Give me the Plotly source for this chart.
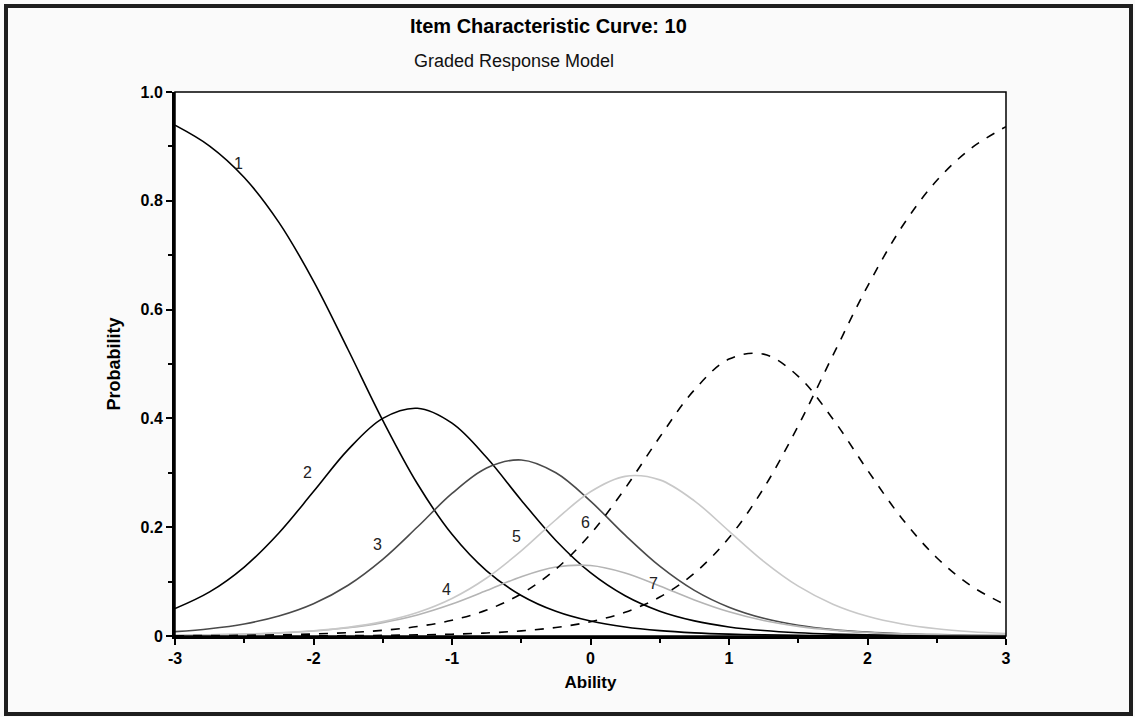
import plotly.graph_objects as go

# Ability grid
ability = [-3.0, -2.75, -2.5, -2.25, -2.0, -1.75, -1.5, -1.25, -1.0, -0.75, -0.5, -0.25,
           0.0, 0.25, 0.5, 0.75, 1.0, 1.25, 1.5, 1.75, 2.0, 2.25, 2.5, 2.75, 3.0]

cat1 = [0.939, 0.9007, 0.8429, 0.7604, 0.6525, 0.5262, 0.3965, 0.2799, 0.1869, 0.1197, 0.0745, 0.0454,
        0.0274, 0.0164, 0.0098, 0.0058, 0.0034, 0.0020, 0.0012, 0.0007, 0.0004, 0.0002, 0.0001, 0.0001, 0.0001]
cat2 = [0.0504, 0.0811, 0.1268, 0.1894, 0.2655, 0.3426, 0.4001, 0.4186, 0.3912, 0.3280, 0.2496, 0.1756,
        0.1163, 0.0739, 0.0456, 0.0278, 0.0167, 0.0100, 0.0059, 0.0035, 0.0021, 0.0012, 0.0007, 0.0004, 0.0002]
cat3 = [0.0080, 0.0134, 0.0222, 0.0366, 0.0592, 0.0933, 0.1409, 0.2003, 0.2620, 0.3089, 0.3236, 0.3000,
        0.2478, 0.1854, 0.1284, 0.0839, 0.0529, 0.0325, 0.0197, 0.0118, 0.0071, 0.0042, 0.0025, 0.0015, 0.0009]
cat4 = [0.0012, 0.0020, 0.0033, 0.0055, 0.0092, 0.0151, 0.0246, 0.0387, 0.0587, 0.0835, 0.1089, 0.1267,
        0.1295, 0.1158, 0.0919, 0.0663, 0.0445, 0.0285, 0.0177, 0.0108, 0.0065, 0.0039, 0.0023, 0.0014, 0.0008]
cat5 = [0.0012, 0.0020, 0.0034, 0.0057, 0.0096, 0.0159, 0.0264, 0.0432, 0.0690, 0.1066, 0.1565, 0.2137,
        0.2652, 0.2935, 0.2870, 0.2484, 0.1929, 0.1373, 0.0916, 0.0585, 0.0362, 0.0220, 0.0132, 0.0079, 0.0047]
cat6 = [0.00045, 0.0008, 0.0013, 0.0022, 0.0037, 0.0062, 0.0104, 0.0174, 0.0289, 0.0477, 0.0775, 0.1229,
        0.1875, 0.2714, 0.3657, 0.4524, 0.5090, 0.5182, 0.4774, 0.3990, 0.3049, 0.2157, 0.1439, 0.0918, 0.0570]
cat7 = [0.00005, 0.0001, 0.0001, 0.0002, 0.0004, 0.0007, 0.0012, 0.0020, 0.0033, 0.0056, 0.0094, 0.0157,
        0.0263, 0.0437, 0.0716, 0.1154, 0.1806, 0.2715, 0.3865, 0.5157, 0.6429, 0.7527, 0.8372, 0.8969, 0.9363]

series = [cat1, cat2, cat3, cat4, cat5, cat6, cat7]
colors = ["#000000", "#000000", "#4a4a4a", "#b4b4b4", "#c8c8c8", "#000000", "#000000"]
dashes = ["solid", "solid", "solid", "solid", "solid", "dash", "dash"]

label_text = ["1", "2", "3", "4", "5", "6", "7"]
label_x = [-2.54, -2.04, -1.54, -1.04, -0.535, -0.036, 0.455]
label_y = [0.868, 0.300, 0.168, 0.086, 0.183, 0.209, 0.097]

y_tickvals = [0, 0.2, 0.4, 0.6, 0.8, 1.0]
y_ticktext = ["0", "0.2", "0.4", "0.6", "0.8", "1.0"]
x_tickvals = [-3, -2, -1, 0, 1, 2, 3]
x_ticktext = ["-3", "-2", "-1", "0", "1", "2", "3"]

FONT = "Liberation Sans, Arial"

fig = go.Figure()
for vals, col, dsh in zip(series, colors, dashes):
    fig.add_trace(go.Scatter(x=ability, y=vals, mode="lines",
                             line=dict(color=col, width=1.6, dash=dsh, shape="spline", smoothing=1.0),
                             showlegend=False, hoverinfo="skip"))

for t, lx, ly in zip(label_text, label_x, label_y):
    fig.add_annotation(x=lx, y=ly, text=t, showarrow=False,
                       font=dict(family=FONT, size=16, color="#222222"))

W, H = 1135, 717
L, R, T, B = 175, 129, 92, 81
pw, ph = W - L - R, H - T - B

def px2paper(px, py):
    return (px - L) / pw, (H - B - py) / ph

# outer frame
x0, y0 = px2paper(6, 6)
x1, y1 = px2paper(1131, 714)
fig.add_shape(type="rect", xref="paper", yref="paper", x0=x0, y0=y1, x1=x1, y1=y0,
              line=dict(color="#1e1e1e", width=4), layer="below")
# plot box (thin top/right)
fig.add_shape(type="rect", xref="paper", yref="paper", x0=0, y0=0, x1=1, y1=1,
              line=dict(color="#000000", width=1.5), layer="above")

tx, ty = px2paper(548, 26)
fig.add_annotation(xref="paper", yref="paper", x=tx, y=ty, xanchor="center", yanchor="middle",
                   text="<b>Item Characteristic Curve: 10</b>",
                   showarrow=False, font=dict(family=FONT, size=20, color="#000"))
sx, sy = px2paper(514, 61)
fig.add_annotation(xref="paper", yref="paper", x=sx, y=sy, xanchor="center", yanchor="middle",
                   text="Graded Response Model",
                   showarrow=False, font=dict(family=FONT, size=18, color="#111"))

fig.update_layout(
    width=W, height=H,
    margin=dict(l=L, r=R, t=T, b=B, pad=0),
    paper_bgcolor="#fafafa", plot_bgcolor="#ffffff",
    font=dict(family=FONT, color="#000"),
)
fig.update_xaxes(range=[-3, 3], tickvals=x_tickvals, ticktext=x_ticktext,
                 showgrid=False, zeroline=False, showline=True, linewidth=3, linecolor="#000",
                 ticks="outside", ticklen=6, tickwidth=2, tickcolor="#000",
                 minor=dict(dtick=0.5, ticks="outside", ticklen=4, tickwidth=2, tickcolor="#000"),
                 tickfont=dict(size=16, family=FONT, color="#000", weight="bold"),
                 title=dict(text="<b>Ability</b>", font=dict(size=17), standoff=10))
fig.update_yaxes(range=[0, 1], tickvals=y_tickvals, ticktext=y_ticktext,
                 showgrid=False, zeroline=False, showline=True, linewidth=3, linecolor="#000",
                 ticks="outside", ticklen=6, tickwidth=2, tickcolor="#000",
                 minor=dict(dtick=0.1, ticks="outside", ticklen=4, tickwidth=2, tickcolor="#000"),
                 tickfont=dict(size=16, family=FONT, color="#000", weight="bold"),
                 title=dict(text="<b>Probability</b>", font=dict(size=18), standoff=16))

fig.write_html("out.html")
